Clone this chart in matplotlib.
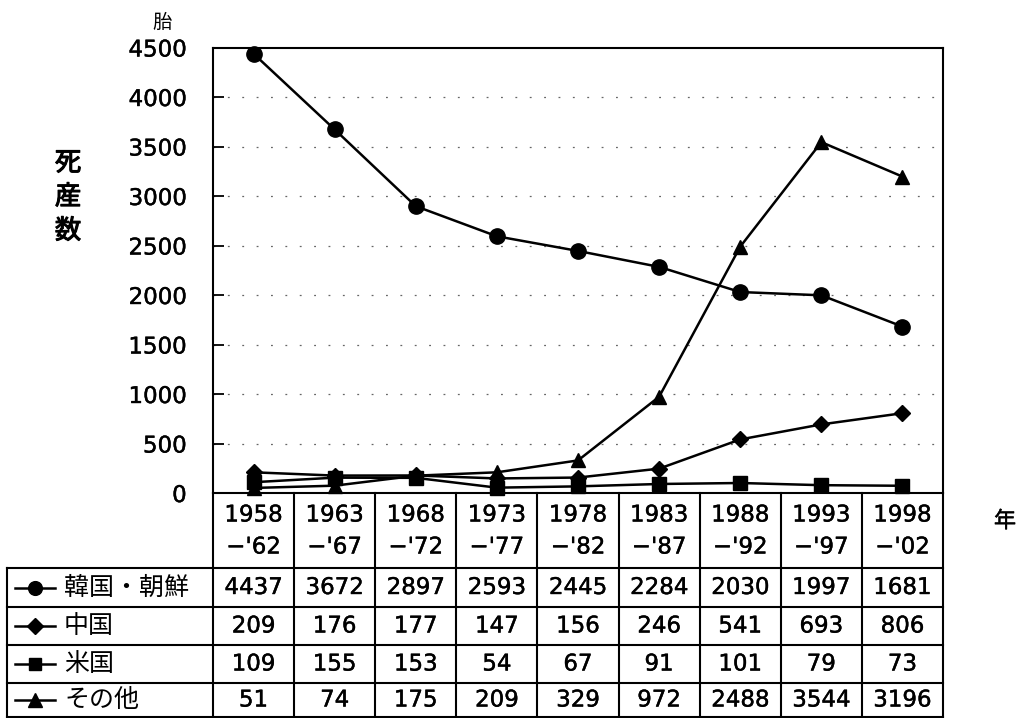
import matplotlib
matplotlib.use("Agg")
import matplotlib.pyplot as plt
import matplotlib.transforms as mtransforms
import matplotlib.patheffects as pe
from matplotlib.lines import Line2D

plt.rcParams['font.family'] = ['Noto Sans CJK JP', 'DejaVu Sans']

# Five-year periods
period_start = ["1958", "1963", "1968", "1973", "1978", "1983", "1988", "1993", "1998"]
period_end = ["−'62", "−'67", "−'72", "−'77", "−'82", "−'87", "−'92", "−'97", "−'02"]

# Stillbirths by mother's nationality
series_names = ["韓国・朝鮮", "中国", "米国", "その他"]
korea = [4437, 3672, 2897, 2593, 2445, 2284, 2030, 1997, 1681]
china = [209, 176, 177, 147, 156, 246, 541, 693, 806]
usa = [109, 155, 153, 54, 67, 91, 101, 79, 73]
other = [51, 74, 175, 209, 329, 972, 2488, 3544, 3196]
series_values = [korea, china, usa, other]
series_markers = ["o", "D", "s", "^"]
marker_sizes = [11, 8.5, 9.5, 10.5]

yticks = [0, 500, 1000, 1500, 2000, 2500, 3000, 3500, 4000, 4500]

NUM_FONT = ['DejaVu Sans']
JP_FONT = ['Noto Sans CJK JP', 'DejaVu Sans']
ink = [pe.withStroke(linewidth=0.3, foreground="black")]

W, H = 1019, 718
fig = plt.figure(figsize=(W / 100, H / 100), dpi=100)


def fx(px):
    return px / W


def fy(py):
    return 1 - py / H


left, right, top, bottom = 213, 943, 47.5, 493
ax = fig.add_axes([fx(left), fy(bottom), fx(right) - fx(left), fy(top) - fy(bottom)])
ax.set_xlim(-0.5, len(period_start) - 0.5)
ax.set_ylim(0, 4500)

x = list(range(len(period_start)))
for vals, mk, ms in zip(series_values, series_markers, marker_sizes):
    ax.plot(x, vals, color="black", lw=1.8, marker=mk, markersize=ms,
            markerfacecolor="black", markeredgecolor="black", clip_on=False, zorder=3)

# faint dotted gridlines
for yv in yticks[1:-1]:
    ax.axhline(yv, color="#666666", lw=0.9, ls=(0, (1.5, 10)), zorder=1)

ax.set_xticks([])
ax.set_yticks(yticks)
ax.set_yticklabels([str(v) for v in yticks], fontsize=16.5, family=NUM_FONT)
ax.tick_params(axis="y", direction="in", length=8, width=1.3, pad=19)
for lbl in ax.get_yticklabels():
    lbl.set_path_effects(ink)
for sp in ax.spines.values():
    sp.set_linewidth(1.5)
    sp.set_color("black")

# axis captions
for k, ch in enumerate("死産数"):
    fig.text(fx(68), fy(163 + 34 * k), ch, fontsize=19, ha="center", va="center",
             family=JP_FONT, path_effects=[pe.withStroke(linewidth=0.8, foreground="black")])
fig.text(fx(162), fy(22), "胎", fontsize=14, ha="center", va="center", family=JP_FONT)
fig.text(fx(1005), fy(521), "年", fontsize=16, ha="center", va="center",
         family=JP_FONT, path_effects=ink)

# data table under the chart
trans = mtransforms.blended_transform_factory(ax.transData, fig.transFigure)
lw_tab = 1.5
row_edges = [568, 607, 645, 683, 717]
label_left = 7

# column separators
for i in range(len(period_start) + 1):
    xb = i - 0.5
    fig.add_artist(Line2D([xb, xb], [fy(bottom), fy(row_edges[-1])], transform=trans,
                          color="black", lw=lw_tab))
# horizontal rules
for ye in row_edges:
    fig.add_artist(Line2D([fx(label_left), fx(right)], [fy(ye)] * 2,
                          transform=fig.transFigure, color="black", lw=lw_tab))
fig.add_artist(Line2D([fx(label_left)] * 2, [fy(row_edges[0]), fy(row_edges[-1])],
                      transform=fig.transFigure, color="black", lw=lw_tab))

# header text
for i, (s, e) in enumerate(zip(period_start, period_end)):
    fig.text(i, fy(515), s, transform=trans, fontsize=16.5, ha="center", va="center",
             family=NUM_FONT, path_effects=ink)
    fig.text(i, fy(547), e, transform=trans, fontsize=16.5, ha="center", va="center",
             family=NUM_FONT, path_effects=ink)

# rows: legend key + values
for r, (name, vals, mk, ms) in enumerate(zip(series_names, series_values,
                                              series_markers, marker_sizes)):
    yc = fy((row_edges[r] + row_edges[r + 1]) / 2)
    fig.add_artist(Line2D([fx(15), fx(55)], [yc, yc], transform=fig.transFigure,
                          color="black", lw=1.8))
    fig.add_artist(Line2D([fx(35)], [yc], transform=fig.transFigure, marker=mk,
                          markersize=ms * 0.9, color="black", lw=0))
    fig.text(fx(64), yc, name, fontsize=18, ha="left", va="center", family=JP_FONT)
    for i, v in enumerate(vals):
        fig.text(i, yc, str(v), transform=trans, fontsize=16.5, ha="center", va="center",
                 family=NUM_FONT, path_effects=ink)

fig.savefig("out.png", dpi=100)
